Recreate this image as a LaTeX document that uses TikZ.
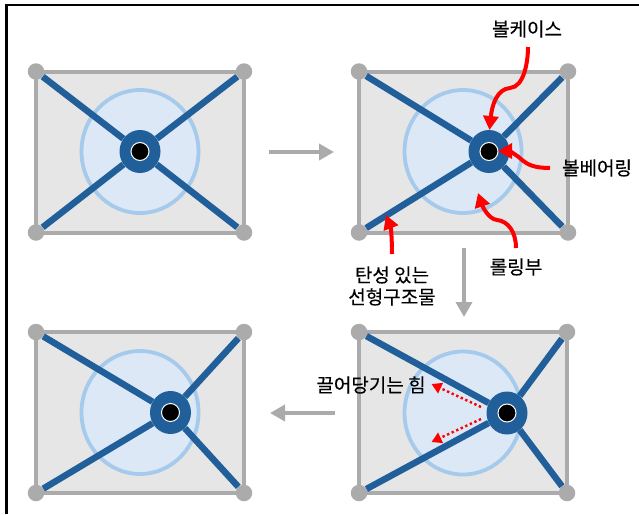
\documentclass[tikz,border=0pt]{standalone}
\usepackage{fontspec}
\setmainfont{Noto Sans CJK KR}[FakeBold=0.25]
\usetikzlibrary{arrows.meta,shapes.geometric}
\definecolor{framegray}{HTML}{ABABAB}
\definecolor{panelfill}{HTML}{E6E6E6}
\definecolor{rollfill}{HTML}{DCE8F6}
\definecolor{rollline}{HTML}{A6CAEC}
\definecolor{beamblue}{HTML}{215F9A}
\tikzset{
  panelbox/.style={draw=framegray,fill=panelfill,line width=4pt},
  cornerdot/.style={circle,fill=framegray,inner sep=0pt,minimum size=16.5pt},
  rolling/.style={ellipse,draw=rollline,fill=rollfill,line width=3.8pt,inner sep=0pt,minimum width=117pt,minimum height=123pt},
  beam/.style={draw=beamblue,line width=6.5pt},
  hubcase/.style={ellipse,fill=beamblue,inner sep=0pt,minimum width=41pt,minimum height=43pt},
  hubball/.style={circle,draw=white,fill=black,line width=1pt,inner sep=0pt,minimum size=18pt},
  flowarrow/.style={draw=framegray,line width=3.6pt,-{Triangle[length=15pt,width=16pt]}},
  callout/.style={draw=red,line width=4pt,-{Triangle[length=14pt,width=15pt]}},
  pull/.style={draw=red,line width=2.4pt,dash pattern=on 2.4pt off 2.6pt,-{Triangle[length=10pt,width=11pt]}},
  lbl/.style={font=\fontsize{19pt}{22pt}\selectfont,text=black,inner sep=0pt,align=center},
}
% #1 name, #2 left, #3 right, #4 top, #5 bottom, #6 roll x, #7 roll y, #8 hub x
\newcommand{\bearingpanel}[8]{%
  \path[panelbox] (#2,#4) rectangle (#3,#5);
  \node[rolling] (#1roll) at (#6,#7) {};
  \node[cornerdot] (#1a) at (#2,#4) {};
  \node[cornerdot] (#1b) at (#3,#4) {};
  \node[cornerdot] (#1c) at (#2,#5) {};
  \node[cornerdot] (#1d) at (#3,#5) {};
  \node[hubcase] (#1hub) at (#8,#7) {};
  \draw[beam] (#1a) -- (#1hub);
  \draw[beam] (#1b) -- (#1hub);
  \draw[beam] (#1c) -- (#1hub);
  \draw[beam] (#1d) -- (#1hub);
  \node[hubball] (#1ball) at (#8,#7) {};
}
\begin{document}
\begin{tikzpicture}[x=1pt,y=-1pt]
\useasboundingbox (0,0) rectangle (639,514);
\fill[white] (0,0) rectangle (639,514);
\draw[black,line width=2.8pt] (6.5,514) -- (6.5,5) -- (639,5);

\bearingpanel{p}{36}{244}{71.5}{232.5}{140}{151.5}{140}
\bearingpanel{q}{359}{568}{71.5}{232.5}{463}{151.5}{489}
\bearingpanel{r}{359}{567}{332}{493}{463}{413}{507}
\bearingpanel{s}{36}{244}{332}{493}{140}{412.5}{170.5}

\coordinate (f1s) at (269,152); \coordinate (f1e) at (334,152);
\coordinate (f2s) at (464,248); \coordinate (f2e) at (464,317);
\coordinate (f3s) at (335,413); \coordinate (f3e) at (270,413);
\draw[flowarrow] (f1s) -- (f1e);
\draw[flowarrow] (f2s) -- (f2e);
\draw[flowarrow] (f3s) -- (f3e);

\node[lbl] (caseL) at (527,29) {볼케이스};
\node[lbl] (ballL) at (597,168) {볼베어링};
\node[lbl] (rollL) at (516,267) {롤링부};
\node[lbl] (beamL) at (392,286) {탄성 있는\\선형구조물};
\node[lbl] (pullL) at (371,385) {끌어당기는 힘};

\coordinate (c1s) at (528,47); \coordinate (c1e) at (489.5,130);
\coordinate (c2s) at (550,168); \coordinate (c2e) at (498,151);
\coordinate (c3s) at (516,248); \coordinate (c3e) at (478,193);
\coordinate (c4s) at (392,254); \coordinate (c4e) at (386,215);
\draw[callout] (c1s) .. controls (528,62) and (524,87) .. (510,88)
  .. controls (497,89) and (492,105) .. (c1e);
\draw[callout] (c2s) .. controls (535,168) and (528,165) .. (522,160)
  .. controls (516,154) and (508,151) .. (c2e);
\draw[callout] (c3s) .. controls (516,232) and (508,221) .. (497,220)
  .. controls (488,219) and (482,205) .. (c3e);
\draw[callout] (c4s) .. controls (392,240) and (391,228) .. (c4e);

\coordinate (d1s) at (481,407); \coordinate (d1e) at (431.5,384);
\coordinate (d2s) at (481,419); \coordinate (d2e) at (431.5,442);
\draw[pull] (d1s) -- (d1e);
\draw[pull] (d2s) -- (d2e);
\end{tikzpicture}
\end{document}
